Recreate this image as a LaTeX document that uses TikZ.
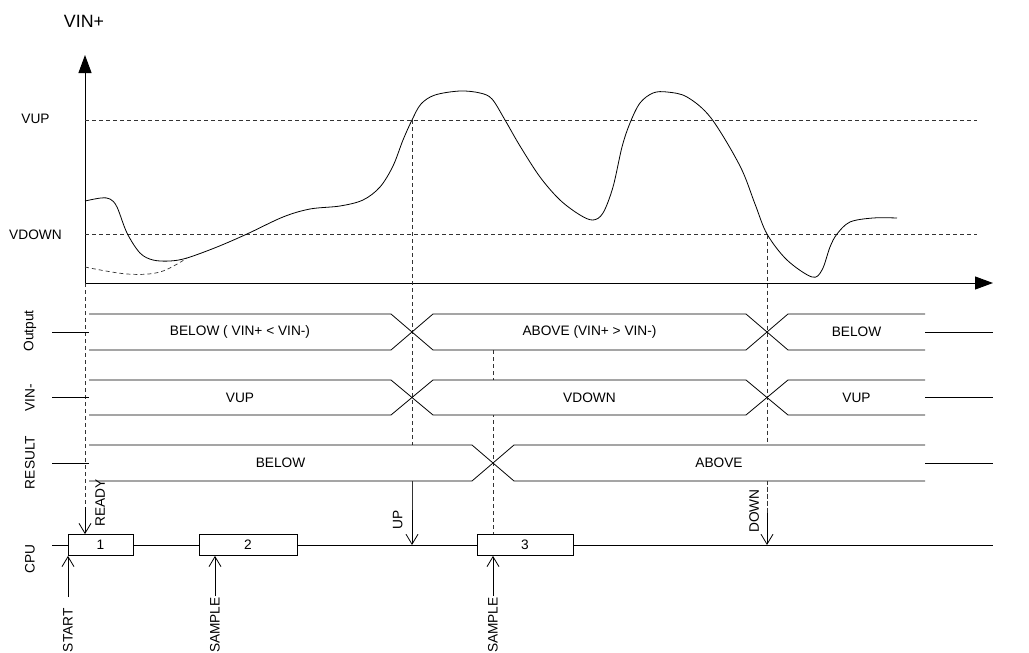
\documentclass[tikz,border=0pt]{standalone}
\usepackage{fontspec}
\setmainfont{Liberation Sans}
\usetikzlibrary{calc,positioning,arrows.meta}

\begin{document}
\begin{tikzpicture}[x=1pt,y=-1pt,line width=0.8pt,
    every node/.style={font=\fontsize{13.7}{16}\selectfont},
    guide/.style={line width=0.7pt,black!80,dash pattern=on 4pt off 3pt},
    barb/.style={-{Straight Barb[length=10pt,width=12pt]}},
    axis/.style={line width=1pt,-{Triangle[length=18pt,width=13pt]}},
    cpubox/.style={draw,fill=white,minimum height=21pt,inner sep=0pt},
    sig/.style={rotate=90,inner sep=1pt}]
    \useasboundingbox (0,0) rectangle (1029,653);

    % axes
    \coordinate (O) at (85,283);
    \coordinate (ytip) at (85,55);
    \coordinate (xtip) at (993,283);
    \draw[axis] (O) -- (ytip);
    \draw[axis] (O) -- (xtip);
    \node (vin) at (84,21) {\fontsize{17.8}{20}\selectfont VIN+};
    \node (lvu) at (35.5,119) {VUP};
    \node (lvd) at (35.5,234.5) {VDOWN};
    \draw[guide] (85,120) -- (977,120);
    \draw[guide] (85,234.5) -- (977,234.5);

    % input signal
    \draw plot[smooth,tension=0.55] coordinates {(85,201) (101,198) (110,199)
        (117,207) (127,233) (140,253) (153,260) (170,261) (187,258) (217,247)
        (247,234) (283,217) (310,209) (340,206) (363,200) (380,187) (393,166)
        (403,140) (412,120) (421,104) (435,95) (460,91) (480,93) (492,99)
        (505,120) (520,146) (540,177) (560,200) (580,215) (593,220) (603,213)
        (613,187) (622,147) (630,123) (640,103) (653,93) (667,92) (687,97)
        (711,118) (740,166) (755,204) (767,234) (787,260) (812,277) (822,270)
        (830,247) (837,234) (850,222) (873,218) (897,218)};
    \draw[guide] plot[smooth,tension=0.6] coordinates {(85,267) (127,274)
        (160,272) (187,258)};

    % crossings
    \coordinate (up0) at (412,120);
    \coordinate (dn0) at (767,234.5);
    \coordinate (rd0) at (O);
    \coordinate (sm0) at (493,350);
    \draw[guide] (rd0) -- (85,507);
    \draw[guide] (up0) -- (412,510);
    \draw[guide] (dn0) -- (767,513);

    % CPU
    \coordinate (c0) at (52,545);
    \coordinate (c1) at (993,545);
    \draw (c0) -- (c1);
    \node[cpubox,minimum width=65pt] (b1) at (100.5,545) {1};
    \node[cpubox,minimum width=98pt] (b2) at (248,545) {2};
    \node[cpubox,minimum width=96pt] (b3) at (525,545) {3};
    \node[sig] (lcpu) at (30,559) {CPU};
    \draw[guide] (sm0) -- (sm0 |- b3.north);

    % buses
    \fill[white] (89,314) -- (391,314) -- (412,332) -- (433,314) -- (746,314)
        -- (767,332) -- (788,314) -- (925,314) -- (925,350) -- (788,350)
        -- (767,332) -- (746,350) -- (433,350) -- (412,332) -- (391,350)
        -- (89,350) -- cycle;
    \draw (89,314) -- (391,314) -- (433,350) -- (746,350) -- (788,314) -- (925,314);
    \draw (89,350) -- (391,350) -- (433,314) -- (746,314) -- (788,350) -- (925,350);
    \draw (52,332) -- (89,332) (925,332) -- (993,332);
    \node (o1) at (240,332) {BELOW ( VIN+ < VIN-)};
    \node (o2) at (589.5,332) {ABOVE (VIN+ > VIN-)};
    \node (o3) at (856.5,332) {BELOW};
    \node[sig] (lout) at (30,331) {Output};

    \fill[white] (89,380) -- (391,380) -- (412,397.5) -- (433,380) -- (746,380)
        -- (767,397.5) -- (788,380) -- (925,380) -- (925,415) -- (788,415)
        -- (767,397.5) -- (746,415) -- (433,415) -- (412,397.5) -- (391,415)
        -- (89,415) -- cycle;
    \draw (89,380) -- (391,380) -- (433,415) -- (746,415) -- (788,380) -- (925,380);
    \draw (89,415) -- (391,415) -- (433,380) -- (746,380) -- (788,415) -- (925,415);
    \draw (52,397.5) -- (89,397.5) (925,397.5) -- (993,397.5);
    \node (v1) at (240,397.5) {VUP};
    \node (v2) at (589.5,397.5) {VDOWN};
    \node (v3) at (856.5,397.5) {VUP};
    \node[sig] (lvin) at (30,397.5) {VIN-};

    \fill[white] (89,445) -- (472,445) -- (493,463) -- (514,445) -- (925,445)
        -- (925,481) -- (514,481) -- (493,463) -- (472,481) -- (89,481) -- cycle;
    \draw (89,445) -- (472,445) -- (514,481) -- (925,481);
    \draw (89,481) -- (472,481) -- (514,445) -- (925,445);
    \draw (52,463) -- (89,463) (925,463) -- (993,463);
    \node (r1) at (280.5,463) {BELOW};
    \node (r2) at (719,463) {ABOVE};
    \node[sig] (lres) at (30,462.5) {RESULT};

    % events
    \draw[guide] (412,481) -- (412,510);
    \draw[guide] (767,481) -- (767,513);
    \draw[barb] (85,507) -- (85,507 |- b1.north);
    \draw[barb] (412,510) -- (412,510 |- c0);
    \draw[barb] (767,513) -- (767,513 |- c0);
    \node[sig,anchor=north west] (rdy) at (94,528) {READY};
    \node[sig,anchor=south west] (up) at (404,531) {UP};
    \node[sig,anchor=south west] (dn) at (760.5,534) {DOWN};

    \coordinate (st0) at (68,597);
    \draw[barb] (st0) -- (st0 |- b1.south);
    \node[sig,anchor=east] (st) at (68,607) {START};
    \node[sig,anchor=east] (sa1) at (215,596) {SAMPLE};
    \draw[barb] (sa1.east) -- (sa1.east |- b2.south);
    \node[sig,anchor=east] (sa2) at (493,596) {SAMPLE};
    \draw[barb] (sa2.east) -- (sa2.east |- b3.south);
\end{tikzpicture}
\end{document}
